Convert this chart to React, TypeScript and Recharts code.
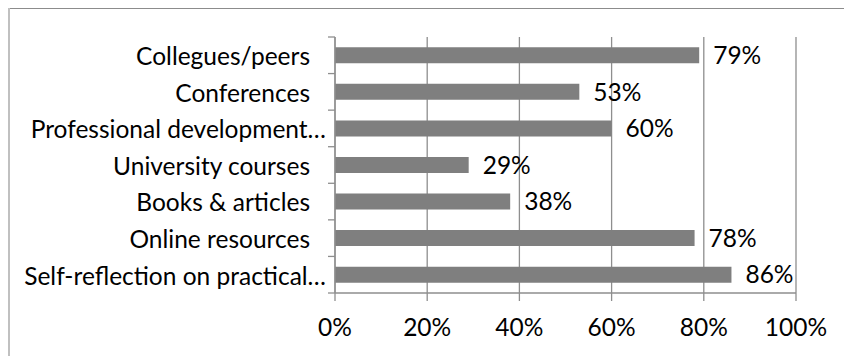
import { BarChart, Bar, XAxis, YAxis, CartesianGrid, LabelList } from 'recharts';

const categories = [
  'Collegues/peers',
  'Conferences',
  'Professional development…',
  'University courses',
  'Books & articles',
  'Online resources',
  'Self-reflection on practical…',
];
const shares = [79, 53, 60, 29, 38, 78, 86];
const xTicks = [0, 20, 40, 60, 80, 100];

const data = categories.map((name, i) => ({ name, value: shares[i] }));

const W = 836;
const H = 348;
const M = { top: 29, right: 48, left: 0, bottom: 23 };
const X_AXIS_H = 40;
const PLOT_H = H - M.top - M.bottom - X_AXIS_H;
const FONT = 'Lato, "Liberation Sans", sans-serif';
const FS = 24.5;
const GRID = '#8e8e8e';

function CategoryTick(props: any) {
  const { x, y, payload, index } = props;
  const band = PLOT_H / categories.length;
  const label: string = payload.value;
  const cut = label.endsWith('…');
  return (
    <g>
      <line x1={x} x2={x + 7} y1={y - band / 2} y2={y - band / 2} stroke={GRID} strokeWidth={1.3} />
      {index === categories.length - 1 && (
        <line x1={x} x2={x + 7} y1={y + band / 2} y2={y + band / 2} stroke={GRID} strokeWidth={1.3} />
      )}
      <text x={cut ? x - 2 : x - 18} y={y} dy="0.4em" textAnchor="end" fontFamily={FONT} fontSize={FS} fill="#000">
        {label}
      </text>
    </g>
  );
}

export default function App() {
  return (
    <div style={{ position: 'fixed', left: 8, top: 8, width: W, height: H, background: '#fff' }}>
      <div style={{ position: 'absolute', left: 0, top: 0, width: W, height: 1, background: '#8c8c8c' }} />
      <div style={{ position: 'absolute', left: 0, top: 0, width: 2, height: H, background: '#c0c0c0' }} />
      <BarChart width={W} height={H} data={data} layout="vertical" margin={M} barCategoryGap="28%">
        <CartesianGrid horizontal={false} stroke={GRID} strokeWidth={1.3} />
        <XAxis
          type="number"
          domain={[0, 100]}
          ticks={xTicks}
          tickFormatter={(v) => `${v}%`}
          height={X_AXIS_H}
          stroke={GRID}
          tickSize={8}
          tickMargin={18}
          tick={{ fill: '#000', fontSize: FS, fontFamily: FONT }}
          axisLine={{ stroke: GRID, strokeWidth: 1.3 }}
          tickLine={{ stroke: GRID, strokeWidth: 1.3 }}
        />
        <YAxis
          type="category"
          dataKey="name"
          width={327}
          tickSize={7}
          tickMargin={0}
          tickLine={false}
          axisLine={{ stroke: GRID, strokeWidth: 1.3 }}
          tick={<CategoryTick />}
          interval={0}
        />
        <Bar dataKey="value" fill="#7f7f7f" isAnimationActive={false}>
          <LabelList
            dataKey="value"
            position="right"
            offset={14}
            formatter={(v: any) => `${v}%`}
            fill="#000"
            fontSize={FS}
            fontFamily={FONT}
          />
        </Bar>
      </BarChart>
    </div>
  );
}
